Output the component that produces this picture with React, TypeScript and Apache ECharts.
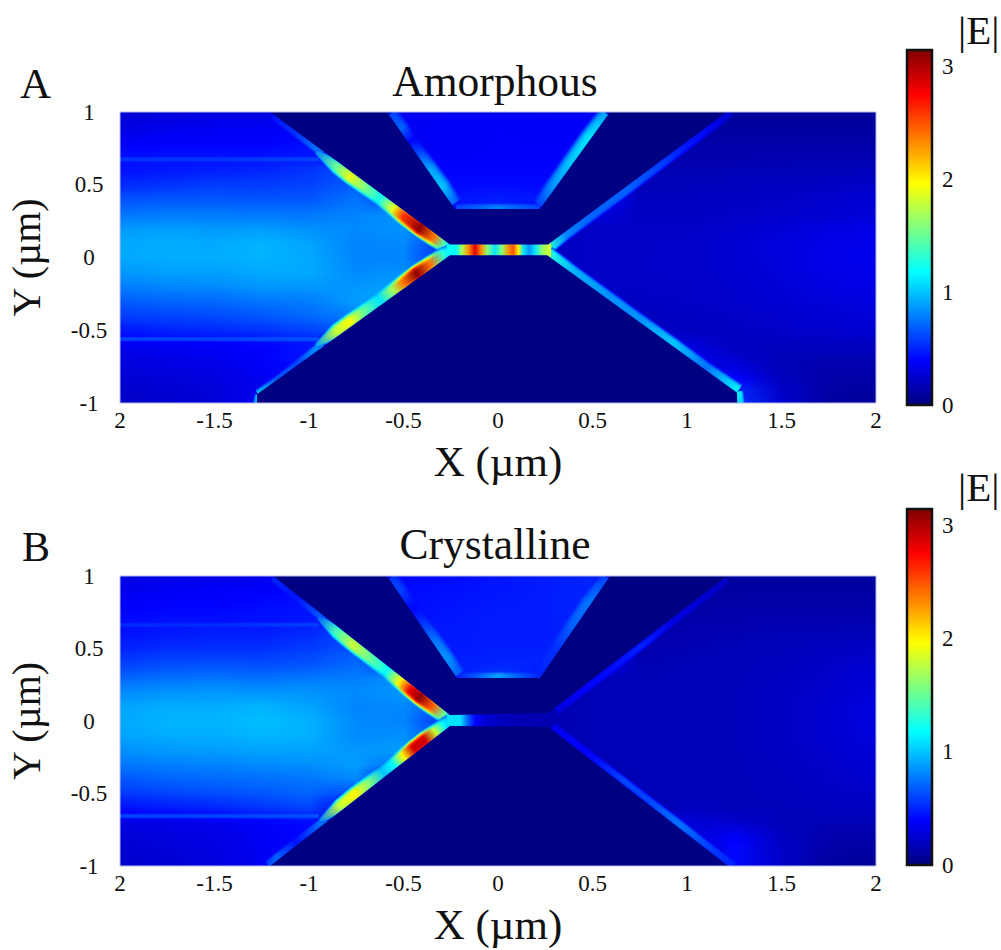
import React, { useEffect, useRef } from "react";
import * as echarts from "echarts";

const xTickLabels: Record<string, string> = { "-2": "2", "-1.5": "-1.5", "-1": "-1", "-0.5": "-0.5", "0": "0", "0.5": "0.5", "1": "1", "1.5": "1.5", "2": "2" };
const xStops = [-2, -1.75, -1.5, -1.25, -1, -0.75, -0.5, -0.25, 0, 0.25, 0.5, 0.75, 1, 1.25, 1.5, 1.75, 2];
const yStops = [1, 0.9, 0.8, 0.7, 0.6, 0.5, 0.4, 0.3, 0.2, 0.1, 0, -0.1, -0.2, -0.3, -0.4, -0.5, -0.6, -0.7, -0.8, -0.9, -1];
const jetColors = ["#00007f", "#0000ff", "#007fff", "#00ffff", "#7fff7f", "#ffff00", "#ff7f00", "#ff0000", "#7f0000"];
const colorMax = 3.15;
const darkValue = 0.01;

const fieldA = [
  [.26, .28, .3, .3, .33, .33, .35, .36, .37, .36, .38, .08, .08, .08, .08, .08, .08],
  [.3, .33, .35, .35, .38, .36, .36, .37, .38, .37, .38, .1, .1, .1, .1, .1, .1],
  [.36, .38, .38, .38, .42, .36, .36, .37, .38, .38, .38, .12, .12, .12, .12, .12, .12],
  [.44, .44, .44, .44, .46, .38, .38, .38, .38, .38, .38, .14, .14, .14, .15, .15, .15],
  [.44, .46, .48, .5, .55, .65, .4, .4, .4, .4, .4, .16, .16, .17, .17, .18, .18],
  [.52, .55, .58, .58, .6, .68, .42, .42, .42, .42, .42, .18, .18, .19, .2, .21, .23],
  [.64, .66, .66, .65, .66, .75, .5, .45, .48, .45, .45, .2, .2, .21, .22, .24, .26],
  [.75, .77, .77, .76, .76, .8, .85, .4, .5, .4, .3, .21, .21, .22, .23, .25, .28],
  [.86, .88, .86, .87, .84, .82, .85, .7, .3, .2, .22, .22, .22, .24, .27, .3, .32],
  [.92, .93, .92, .95, .9, .8, .82, .5, .5, .2, .22, .22, .23, .25, .29, .32, .34],
  [.92, .93, .93, .95, .92, .8, .8, .45, .5, .2, .22, .22, .23, .25, .29, .33, .35],
  [.86, .89, .89, .92, .92, .82, .84, .6, .3, .2, .22, .22, .23, .25, .28, .32, .34],
  [.78, .81, .82, .86, .86, .86, .9, .5, .2, .2, .22, .22, .22, .24, .27, .3, .32],
  [.68, .71, .72, .76, .78, .88, .9, .4, .1, .15, .2, .21, .22, .24, .26, .28, .3],
  [.58, .6, .62, .66, .72, .78, .5, .2, .05, .1, .2, .2, .21, .22, .24, .26, .28],
  [.46, .5, .52, .55, .6, .68, .3, .1, .05, .05, .15, .2, .2, .21, .23, .24, .26],
  [.34, .36, .38, .4, .45, .3, .1, .05, .05, .05, .1, .2, .28, .2, .19, .2, .2],
  [.3, .32, .34, .38, .45, .2, .05, .05, .05, .05, .05, .15, .35, .25, .17, .16, .16],
  [.27, .28, .3, .36, .4, .1, .05, .05, .05, .05, .05, .1, .2, .35, .18, .13, .13],
  [.24, .26, .28, .34, .4, .05, .05, .05, .05, .05, .05, .05, .1, .5, .22, .12, .1],
  [.22, .24, .27, .36, .4, .05, .05, .05, .05, .05, .05, .05, .1, .55, .25, .1, .08],
];
const fieldB = [
  [.3, .32, .32, .34, .36, .38, .4, .42, .45, .47, .5, .1, .1, .1, .1, .1, .1],
  [.34, .36, .38, .38, .42, .38, .42, .44, .46, .48, .5, .11, .11, .11, .11, .11, .11],
  [.38, .4, .4, .42, .44, .4, .42, .45, .47, .48, .5, .12, .12, .12, .13, .13, .13],
  [.42, .43, .43, .44, .46, .42, .43, .46, .48, .48, .5, .13, .13, .14, .15, .15, .15],
  [.44, .47, .48, .48, .52, .6, .45, .47, .48, .48, .48, .14, .15, .16, .17, .17, .18],
  [.5, .53, .54, .54, .58, .65, .45, .47, .48, .48, .48, .15, .16, .17, .18, .2, .22],
  [.58, .62, .63, .62, .64, .72, .45, .48, .5, .5, .45, .16, .17, .18, .19, .22, .25],
  [.7, .74, .75, .74, .76, .78, .84, .45, .6, .45, .18, .17, .17, .18, .2, .23, .27],
  [.82, .85, .86, .85, .85, .82, .86, .6, .1, .15, .17, .17, .17, .18, .21, .24, .28],
  [.9, .93, .93, .95, .9, .8, .82, .6, .1, .15, .17, .17, .17, .18, .21, .25, .3],
  [.92, .95, .95, .98, .94, .82, .8, .5, .15, .15, .17, .17, .17, .18, .21, .25, .3],
  [.9, .93, .93, .96, .94, .82, .84, .6, .1, .15, .17, .17, .17, .18, .21, .25, .29],
  [.84, .87, .88, .9, .9, .86, .88, .3, .05, .12, .17, .17, .17, .18, .21, .24, .28],
  [.76, .79, .8, .82, .84, .88, .7, .05, .05, .1, .17, .17, .17, .18, .2, .23, .26],
  [.66, .7, .72, .74, .76, .82, .3, .05, .05, .05, .15, .17, .17, .18, .19, .22, .25],
  [.56, .6, .63, .66, .7, .6, .1, .05, .05, .05, .1, .17, .17, .18, .19, .21, .23],
  [.44, .47, .5, .55, .6, .3, .05, .05, .05, .05, .05, .15, .2, .18, .18, .19, .2],
  [.3, .32, .34, .38, .42, .2, .05, .05, .05, .05, .05, .1, .28, .24, .18, .17, .17],
  [.27, .29, .31, .36, .4, .1, .05, .05, .05, .05, .05, .05, .25, .38, .2, .14, .13],
  [.25, .27, .3, .36, .42, .05, .05, .05, .05, .05, .05, .05, .15, .42, .22, .12, .1],
  [.24, .26, .29, .36, .45, .05, .05, .05, .05, .05, .05, .05, .1, .42, .22, .1, .08],
];

const upperDarkA = [[-1.206, 1], [-0.254, 0.09], [0.265, 0.09], [1.21, 1], [0.593, 1], [0.222, 0.333], [-0.228, 0.333], [-0.587, 1]];
const lowerDarkA = [[-1.275, -1], [-1.275, -0.94], [-0.254, 0.015], [0.26, 0.015], [1.265, -0.93], [1.265, -1]];
const upperDarkB = [[-1.19, 1], [-0.254, 0.041], [0.265, 0.055], [1.21, 1], [0.593, 1], [0.222, 0.297], [-0.217, 0.297], [-0.587, 1]];
const lowerDarkB = [[-1.206, -1], [-0.254, -0.034], [0.265, -0.04], [1.217, -1]];

// bright edges, A
const hotUpperAX = [-0.96, -0.854, -0.783, -0.712, -0.624, -0.554, -0.501, -0.413, -0.342, -0.289, -0.245];
const hotUpperAY = [0.725, 0.624, 0.556, 0.488, 0.404, 0.337, 0.286, 0.202, 0.134, 0.083, 0.047];
const hotUpperAV = [0.8, 1.5, 1.9, 1.6, 1.25, 1.9, 2.6, 3.1, 2.4, 1.4, 1.1];
const hotLowerAX = [-0.96, -0.854, -0.783, -0.712, -0.624, -0.554, -0.501, -0.43, -0.36, -0.289, -0.245];
const hotLowerAY = [-0.605, -0.506, -0.44, -0.373, -0.291, -0.226, -0.176, -0.11, -0.044, 0.022, 0.045];
const hotLowerAV = [0.9, 1.8, 1.95, 1.5, 1.1, 1.7, 2.4, 3.1, 2.4, 1.3, 1.1];
const faintUpperAX = [-1.189, -1.065, -0.93];
const faintUpperAY = [0.968, 0.85, 0.72];
const faintUpperAV = [0.45, 0.55, 0.8];
const faintLowerAX = [-1.268, -1.171, -1.065, -0.93];
const faintLowerAY = [-0.94, -0.85, -0.74, -0.6];
const faintLowerAV = [1.0, 0.7, 0.6, 0.9];
const footAX = [-1.277, -1.268];
const footAY = [-1.0, -0.945];
const footAV = [0.9, 1.0];
const rightUpperAX = [0.266, 0.363, 0.487, 0.663, 0.84, 1.016, 1.175, 1.23];
const rightUpperAY = [0.066, 0.159, 0.279, 0.448, 0.619, 0.788, 0.941, 1.0];
const rightUpperAV = [1.3, 0.8, 0.7, 0.7, 0.6, 0.45, 0.3, 0.25];
const rightLowerAX = [0.266, 0.399, 0.575, 0.751, 0.928, 1.104, 1.272];
const rightLowerAY = [0.034, -0.091, -0.256, -0.422, -0.588, -0.753, -0.911];
const rightLowerAV = [1.3, 0.95, 0.85, 0.85, 1.0, 0.75, 1.15];
const rightFootAX = [1.272, 1.28];
const rightFootAY = [-0.922, -1.0];
const rightFootAV = [1.15, 1.05];
const channelAX = [-0.27, -0.219, -0.192, -0.157, -0.122, -0.086, -0.056, -0.016, 0.02, 0.055, 0.081, 0.108, 0.134, 0.166, 0.196, 0.231, 0.28];
const channelAY = [0.052, 0.052, 0.052, 0.052, 0.052, 0.052, 0.052, 0.052, 0.052, 0.052, 0.052, 0.052, 0.052, 0.052, 0.052, 0.052, 0.052];
const channelAV = [1.2, 1.2, 1.7, 2.3, 2.85, 2.3, 1.6, 1.1, 1.6, 2.3, 2.5, 2.0, 1.1, 0.85, 1.1, 1.6, 1.9];
const trapBottomAX = [-0.22, -0.1, 0, 0.1, 0.22];
const trapBottomAY = [0.338, 0.338, 0.338, 0.338, 0.338];
const trapBottomAV = [0.6, 0.7, 0.8, 0.7, 0.6];
const trapLeftAX = [-0.576, -0.522, -0.474, -0.372, -0.307, -0.243];
const trapLeftAY = [0.98, 0.88, 0.79, 0.6, 0.48, 0.36];
const trapLeftAV = [0.6, 0.7, 0.4, 0.9, 1.0, 0.7];
const trapRightAX = [0.582, 0.493, 0.387, 0.298, 0.231];
const trapRightAY = [0.98, 0.82, 0.63, 0.47, 0.35];
const trapRightAV = [0.9, 1.1, 1.0, 0.85, 0.6];
const lineTopAX = [-2, -1.5, -0.95];
const lineTopAY = [0.675, 0.675, 0.675];
const lineTopAV = [0.55, 0.55, 0.6];
const lineBottomAX = [-2, -1.5, -0.95];
const lineBottomAY = [-0.56, -0.56, -0.56];
const lineBottomAV = [0.6, 0.6, 0.65];

// bright edges, B
const hotUpperBX = [-0.95, -0.854, -0.766, -0.677, -0.589, -0.519, -0.466, -0.413, -0.351, -0.289, -0.254];
const hotUpperBY = [0.715, 0.616, 0.526, 0.434, 0.344, 0.273, 0.218, 0.164, 0.1, 0.037, 0.006];
const hotUpperBV = [0.7, 1.4, 1.8, 1.5, 1.2, 2.0, 2.8, 3.1, 2.5, 1.5, 1.2];
const hotLowerBX = [-0.94, -0.836, -0.757, -0.686, -0.607, -0.554, -0.501, -0.448, -0.386, -0.333, -0.289, -0.254];
const hotLowerBY = [-0.69, -0.585, -0.504, -0.432, -0.352, -0.298, -0.245, -0.191, -0.128, -0.074, -0.03, 0.002];
const hotLowerBV = [0.8, 1.8, 2.0, 1.6, 1.0, 1.2, 2.0, 2.9, 2.9, 1.8, 1.2, 1.0];
const faintUpperBX = [-1.189, -1.065, -0.92];
const faintUpperBY = [0.984, 0.85, 0.705];
const faintUpperBV = [0.5, 0.45, 0.7];
const faintLowerBX = [-1.215, -1.171, -1.065, -0.91];
const faintLowerBY = [-0.993, -0.945, -0.835, -0.68];
const faintLowerBV = [0.6, 0.7, 0.45, 0.8];
const rightUpperBX = [0.31, 0.487, 0.663, 0.751, 0.928, 1.104, 1.21];
const rightUpperBY = [0.07, 0.247, 0.423, 0.511, 0.688, 0.864, 0.97];
const rightUpperBV = [0.3, 0.4, 0.45, 0.5, 0.3, 0.25, 0.22];
const rightLowerBX = [0.293, 0.487, 0.663, 0.787, 0.963, 1.104, 1.245];
const rightLowerBY = [-0.038, -0.234, -0.411, -0.536, -0.714, -0.856, -0.998];
const rightLowerBV = [0.35, 0.4, 0.6, 0.6, 0.75, 0.6, 0.5];
const channelBX = [-0.27, -0.2, -0.16, -0.12, -0.06, 0.05, 0.15, 0.28];
const channelBY = [0.004, 0.004, 0.004, 0.004, 0.004, 0.004, 0.004, 0.004];
const channelBV = [1.1, 1.1, 0.7, 0.4, 0.25, 0.18, 0.16, 0.16];
const trapBottomBX = [-0.21, -0.1, 0, 0.1, 0.22];
const trapBottomBY = [0.302, 0.302, 0.302, 0.302, 0.302];
const trapBottomBV = [0.5, 0.7, 0.9, 0.7, 0.5];
const trapLeftBX = [-0.576, -0.534, -0.461, -0.35, -0.282, -0.224];
const trapLeftBY = [0.98, 0.9, 0.76, 0.55, 0.42, 0.31];
const trapLeftBV = [0.55, 0.6, 0.4, 0.75, 0.85, 0.7];
const trapRightBX = [0.583, 0.493, 0.408, 0.324, 0.229];
const trapRightBY = [0.98, 0.81, 0.65, 0.49, 0.31];
const trapRightBV = [0.6, 0.75, 0.7, 0.55, 0.5];
const lineTopBX = [-2, -1.5, -0.95];
const lineTopBY = [0.662, 0.662, 0.662];
const lineTopBV = [0.52, 0.52, 0.58];
const lineBottomBX = [-2, -1.5, -0.95];
const lineBottomBY = [-0.655, -0.655, -0.655];
const lineBottomBV = [0.6, 0.6, 0.65];

type Edge = { xs: number[]; ys: number[]; vs: number[]; base: number; gain: number; taper: number };
const mk = (xs: number[], ys: number[], vs: number[], base = 7, gain = 3, taper = 1): Edge => ({ xs, ys, vs, base, gain, taper });

const edgesA: Edge[] = [
  mk(lineTopAX, lineTopAY, lineTopAV, 5, 0),
  mk(lineBottomAX, lineBottomAY, lineBottomAV, 5, 0),
  mk(faintUpperAX, faintUpperAY, faintUpperAV, 8, 2),
  mk(faintLowerAX, faintLowerAY, faintLowerAV, 9, 2),
  mk(footAX, footAY, footAV, 6, 2),
  mk(rightUpperAX, rightUpperAY, rightUpperAV, 10, 3),
  mk(rightLowerAX, rightLowerAY, rightLowerAV, 10, 3),
  mk(rightFootAX, rightFootAY, rightFootAV, 8, 2),
  mk(trapBottomAX, trapBottomAY, trapBottomAV, 10, 0),
  mk(trapLeftAX, trapLeftAY, trapLeftAV, 18, 6),
  mk(trapRightAX, trapRightAY, trapRightAV, 18, 6),
  mk(hotUpperAX, hotUpperAY, hotUpperAV, 13, 1.8, 0.4),
  mk(hotLowerAX, hotLowerAY, hotLowerAV, 13, 1.8, 0.4),
  mk(channelAX, channelAY, channelAV, 26, 0),
];
const edgesB: Edge[] = [
  mk(lineTopBX, lineTopBY, lineTopBV, 5, 0),
  mk(lineBottomBX, lineBottomBY, lineBottomBV, 5, 0),
  mk(faintUpperBX, faintUpperBY, faintUpperBV, 8, 2),
  mk(faintLowerBX, faintLowerBY, faintLowerBV, 9, 2),
  mk(rightUpperBX, rightUpperBY, rightUpperBV, 8, 3),
  mk(rightLowerBX, rightLowerBY, rightLowerBV, 8, 3),
  mk(trapBottomBX, trapBottomBY, trapBottomBV, 10, 0),
  mk(trapLeftBX, trapLeftBY, trapLeftBV, 18, 6),
  mk(trapRightBX, trapRightBY, trapRightBV, 18, 6),
  mk(hotUpperBX, hotUpperBY, hotUpperBV, 13, 1.8, 0.4),
  mk(hotLowerBX, hotLowerBY, hotLowerBV, 13, 1.8, 0.4),
  mk(channelBX, channelBY, channelBV, 24, 0),
];

const LAYERS = [
  { w: 1, k: 0.25, a: 0.6 },
  { w: 0.88, k: 0.5, a: 0.9 },
  { w: 0.74, k: 0.75, a: 0.95 },
  { w: 0.58, k: 0.92, a: 1 },
  { w: 0.38, k: 1, a: 1 },
];
const SERIF = "Liberation Serif";

function hex(c: string) {
  return [1, 3, 5].map((i) => parseInt(c.slice(i, i + 2), 16));
}
function jet(v: number) {
  const t = Math.max(0, Math.min(1, v / colorMax)) * (jetColors.length - 1);
  const i = Math.min(jetColors.length - 2, Math.floor(t));
  const a = hex(jetColors[i]);
  const b = hex(jetColors[i + 1]);
  const f = t - i;
  return `rgb(${a.map((p, j) => Math.round(p + (b[j] - p) * f)).join(",")})`;
}
function fieldAt(field: number[][], x: number, y: number) {
  const fx = Math.max(0, Math.min(15.999, (x + 2) / 0.25));
  const fy = Math.max(0, Math.min(19.999, (1 - y) / 0.1));
  const i = Math.floor(fx);
  const j = Math.floor(fy);
  const u = fx - i;
  const w = fy - j;
  return (field[j][i] * (1 - u) + field[j][i + 1] * u) * (1 - w) + (field[j + 1][i] * (1 - u) + field[j + 1][i + 1] * u) * w;
}

function fieldSeries(field: number[][], gridIndex: number) {
  const SUB = 5;
  return {
    type: "custom",
    xAxisIndex: gridIndex,
    yAxisIndex: gridIndex,
    clip: true,
    silent: true,
    z: 1,
    data: yStops.slice(0, -1).map((y, i) => [0, y, i]),
    renderItem: (params: any, api: any) => {
      const r = params.dataIndex;
      const children: any[] = [];
      for (let s = 0; s < SUB; s++) {
        const f = (s + 0.5) / SUB;
        const yA = yStops[r] + (yStops[r + 1] - yStops[r]) * (s / SUB);
        const yB = yStops[r] + (yStops[r + 1] - yStops[r]) * ((s + 1) / SUB);
        const tl = api.coord([-2, yA]);
        const br = api.coord([2, yB]);
        const top = Math.round(tl[1]);
        const bottom = Math.round(br[1]);
        const stops = xStops.map((_, i) => ({
          offset: i / (xStops.length - 1),
          color: jet(field[r][i] * (1 - f) + field[r + 1][i] * f),
        }));
        children.push({
          type: "rect",
          shape: { x: tl[0], y: top, width: br[0] - tl[0], height: bottom - top },
          style: { fill: new echarts.graphic.LinearGradient(tl[0], 0, br[0], 0, stops, true) },
        });
      }
      return { type: "group", children };
    },
  };
}

function edgeSeries(edges: Edge[], field: number[][], gridIndex: number) {
  return {
    type: "custom",
    xAxisIndex: gridIndex,
    yAxisIndex: gridIndex,
    clip: true,
    silent: true,
    z: 2,
    data: edges.map((e) => [e.xs[0], e.ys[0]]),
    renderItem: (params: any, api: any) => {
      const e = edges[params.dataIndex];
      const pts = e.xs.map((x, j) => api.coord([x, e.ys[j]]));
      const n = pts.length;
      const first = pts[0];
      const last = pts[n - 1];
      const dx = last[0] - first[0];
      const dy = last[1] - first[1];
      const len2 = dx * dx + dy * dy;
      const normals = pts.map((_: any, j: number) => {
        const a = pts[Math.max(0, j - 1)];
        const b = pts[Math.min(n - 1, j + 1)];
        const nx = -(b[1] - a[1]);
        const ny = b[0] - a[0];
        const l = Math.hypot(nx, ny) || 1;
        return [nx / l, ny / l];
      });
      const children = LAYERS.map((layer) => {
        const side1: number[][] = [];
        const side2: number[][] = [];
        const stops = pts.map((p: number[], j: number) => {
          const half = ((e.base + e.gain * e.vs[j]) * layer.w * (j === 0 ? e.taper : 1)) / 2;
          side1.push([p[0] + normals[j][0] * half, p[1] + normals[j][1] * half]);
          side2.unshift([p[0] - normals[j][0] * half, p[1] - normals[j][1] * half]);
          const bg = fieldAt(field, e.xs[j], e.ys[j]);
          const offset = ((p[0] - first[0]) * dx + (p[1] - first[1]) * dy) / len2;
          return { offset: Math.max(0, Math.min(1, offset)), color: jet(bg + layer.k * (e.vs[j] - bg)) };
        });
        return {
          type: "polygon",
          shape: { points: side1.concat(side2) },
          style: {
            fill: new echarts.graphic.LinearGradient(first[0], first[1], last[0], last[1], stops, true),
            opacity: layer.a,
          },
        };
      });
      return { type: "group", children };
    },
  };
}

function darkSeries(polys: number[][][], gridIndex: number) {
  return {
    type: "custom",
    xAxisIndex: gridIndex,
    yAxisIndex: gridIndex,
    clip: true,
    silent: true,
    z: 3,
    data: polys.map((p) => p[0]),
    renderItem: (params: any, api: any) => ({
      type: "polygon",
      shape: { points: polys[params.dataIndex].map((p) => api.coord(p)) },
      style: { fill: jet(darkValue) },
    }),
  };
}

function frameSeries(gridIndex: number, stroke: string, lineWidth: number, gradient: boolean) {
  return {
    type: "custom",
    xAxisIndex: gridIndex,
    yAxisIndex: gridIndex,
    clip: false,
    silent: true,
    z: 5,
    data: [[0, 0]],
    renderItem: (params: any) => {
      const cs = params.coordSys;
      return {
        type: "rect",
        shape: { x: cs.x, y: cs.y, width: cs.width, height: cs.height },
        style: {
          fill: gradient
            ? new echarts.graphic.LinearGradient(
                0, cs.y + cs.height, 0, cs.y,
                jetColors.map((c, i) => ({ offset: i / (jetColors.length - 1), color: c })),
                true
              )
            : "transparent",
          stroke,
          lineWidth,
        },
      };
    },
  };
}

const serifLabel = (size: number) => ({ fontFamily: SERIF, fontSize: size, color: "#111" });

function plotAxes(gridIndex: number) {
  return {
    x: {
      type: "value", gridIndex, min: -2, max: 2, interval: 0.5,
      axisLine: { show: false }, axisTick: { show: false }, splitLine: { show: false },
      axisLabel: { ...serifLabel(23), margin: 6, formatter: (v: number) => xTickLabels[String(v)] ?? String(v), hideOverlap: false },
      name: "X (µm)", nameLocation: "middle", nameGap: 37, nameTextStyle: serifLabel(43),
    },
    y: {
      type: "value", gridIndex, min: -1, max: 1, interval: 0.5,
      axisLine: { show: false }, axisTick: { show: false }, splitLine: { show: false },
      axisLabel: { ...serifLabel(23), margin: 31, align: "center", hideOverlap: false },
      name: "Y (µm)", nameLocation: "middle", nameGap: 74, nameRotate: 90, nameTextStyle: serifLabel(40),
    },
  };
}
function barAxes(gridIndex: number) {
  return {
    x: { type: "value", gridIndex, min: 0, max: 1, show: false },
    y: {
      type: "value", gridIndex, position: "right", min: 0, max: colorMax, interval: 1,
      axisLine: { show: false }, axisTick: { show: false }, splitLine: { show: false },
      axisLabel: { ...serifLabel(23), margin: 10, padding: [9, 0, 0, 0], showMaxLabel: false, hideOverlap: false },
    },
  };
}

const option = () => {
  const a0 = plotAxes(0);
  const a1 = plotAxes(1);
  const b0 = barAxes(2);
  const b1 = barAxes(3);
  const head = (size: number) => ({ ...serifLabel(size), fontWeight: "normal" });
  return {
    animation: false,
    backgroundColor: "#fff",
    title: [
      { text: "A", left: 15, top: 57, textStyle: head(43) },
      { text: "B", left: 17, top: 521, textStyle: head(42) },
      { text: "Amorphous", left: 490, top: 54, textAlign: "center", textStyle: head(43.5) },
      { text: "Crystalline", left: 490, top: 517, textAlign: "center", textStyle: head(43.5) },
      { text: "|E|", left: 953, top: 4, textStyle: head(41) },
      { text: "|E|", left: 953, top: 461, textStyle: head(41) },
    ],
    grid: [
      { left: 120, top: 112, width: 756, height: 291, outerBoundsMode: "none" },
      { left: 120, top: 576, width: 756, height: 290, outerBoundsMode: "none" },
      { left: 907, top: 50, width: 25, height: 355, outerBoundsMode: "none" },
      { left: 907, top: 509, width: 25, height: 356, outerBoundsMode: "none" },
    ],
    xAxis: [a0.x, a1.x, b0.x, b1.x],
    yAxis: [a0.y, a1.y, b0.y, b1.y],
    series: [
      fieldSeries(fieldA, 0),
      edgeSeries(edgesA, fieldA, 0),
      darkSeries([upperDarkA, lowerDarkA], 0),
      frameSeries(0, "#b4bce4", 1, false),
      fieldSeries(fieldB, 1),
      edgeSeries(edgesB, fieldB, 1),
      darkSeries([upperDarkB, lowerDarkB], 1),
      frameSeries(1, "#b4bce4", 1, false),
      frameSeries(2, "#111", 2.5, true),
      frameSeries(3, "#111", 2.5, true),
    ],
  };
};

export default function App() {
  const ref = useRef<HTMLDivElement>(null);
  useEffect(() => {
    document.body.style.margin = "0";
    const chart = echarts.init(ref.current!, undefined, { renderer: "svg" });
    chart.setOption(option() as any);
    return () => chart.dispose();
  }, []);
  return <div ref={ref} style={{ width: 1001, height: 950 }} />;
}
